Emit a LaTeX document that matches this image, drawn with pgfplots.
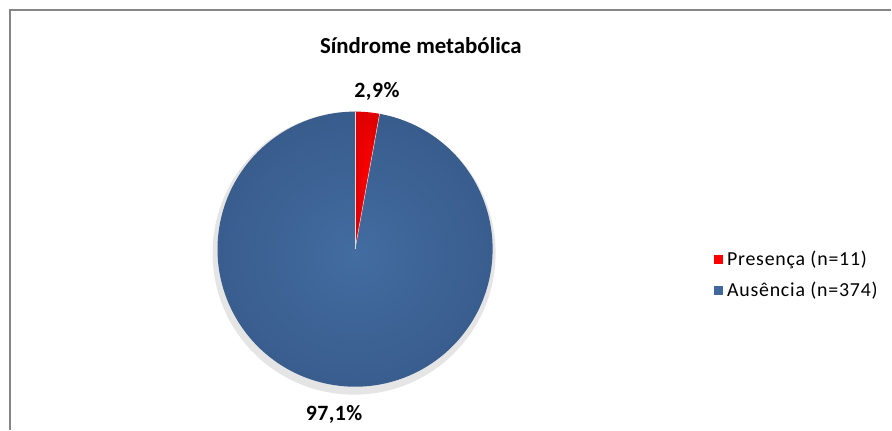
\documentclass[border=0pt]{standalone}
\usepackage{pgfplots}
\usepackage{pgfplotstable}
\pgfplotsset{compat=1.18}
\usepackage{fontspec}
\setmainfont{Carlito}
\newfontfamily\spacedA[LetterSpace=2]{Carlito}
\newfontfamily\spacedB[LetterSpace=4]{Carlito}
\definecolor{pieblue}{RGB}{64,104,156}
\definecolor{pieblueL}{RGB}{67,108,161}
\definecolor{pieblueD}{RGB}{56,92,140}
\definecolor{frame}{RGB}{134,134,134}

\pgfplotstableread{
label value
Presenca 11
Ausencia 374
}\piedata

\begin{document}
\pgfplotstablegetelem{0}{value}\of\piedata \let\va\pgfplotsretval
\pgfplotstablegetelem{1}{value}\of\piedata \let\vb\pgfplotsretval
\pgfmathsetmacro\angA{360*\va/(\va+\vb)}
\begin{tikzpicture}
\begin{axis}[
  width=892bp, height=431bp, scale only axis,
  xmin=0, xmax=892, ymin=0, ymax=431,
  hide axis, clip=false,
]
\path (axis cs:0,0) rectangle (axis cs:892,431);
% frame
\draw[frame, line width=1.5bp] (axis cs:8,0) -- (axis cs:8,421) -- (axis cs:892,421);
% title
\node[font={\fontsize{23}{27}\selectfont\bfseries}] at (axis cs:420,385) {Síndrome metabólica};
% shadow
\fill[black!18] (axis cs:353,178) circle[radius=140bp];
\fill[black!10] (axis cs:353,177) circle[radius=142bp];
% slices
\shade[inner color=pieblueL, outer color=pieblueD] (axis cs:354,181) -- ++({90-\angA}:138bp)
   arc[start angle={90-\angA}, end angle=-270, radius=138bp] -- cycle;
\shade[inner color=red!100, outer color=red!88!black] (axis cs:354,181) -- ++(90:138bp)
   arc[start angle=90, end angle={90-\angA}, radius=138bp] -- cycle;
\draw[white!75!gray, line width=0.5bp] (axis cs:354,181) -- ++(90:138bp);
\draw[white!75!gray, line width=0.5bp] (axis cs:354,181) -- ++({90-\angA}:138bp);
% data labels
\node[font={\spacedA\fontsize{22}{26}\selectfont\bfseries}] at (axis cs:376,339) {2,9\%};
\node[font={\spacedA\fontsize{22}{26}\selectfont\bfseries}] at (axis cs:333,15) {97,1\%};
% legend
\fill[red] (axis cs:714,166) rectangle (axis cs:723,175);
\fill[pieblue] (axis cs:714,135) rectangle (axis cs:723,144);
\node[anchor=west, inner sep=0pt, font={\spacedB\fontsize{20}{24}\selectfont}] at (axis cs:727,170) {Presença (n=11)};
\node[anchor=west, inner sep=0pt, font={\spacedB\fontsize{20}{24}\selectfont}] at (axis cs:727,139) {Ausência (n=374)};
\end{axis}
\end{tikzpicture}
\end{document}
